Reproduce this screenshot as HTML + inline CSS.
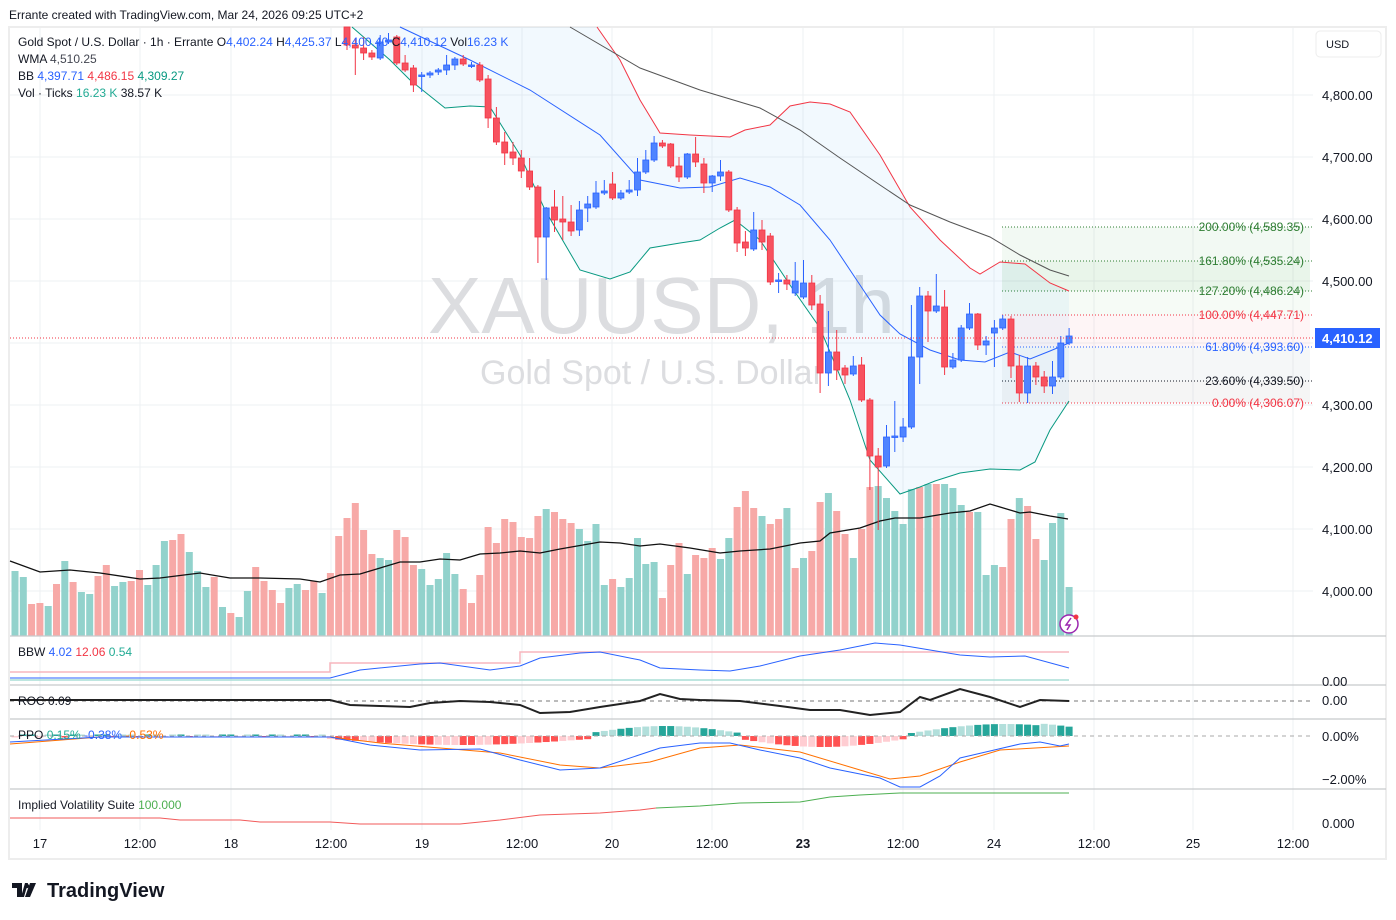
<!DOCTYPE html>
<html><head><meta charset="utf-8">
<style>
html,body{margin:0;padding:0;background:#fff;width:1396px;height:920px;overflow:hidden;font-family:"Liberation Sans",sans-serif;}
svg{position:absolute;left:0;top:0}
</style></head><body>
<svg id="s" width="1396" height="920" xmlns="http://www.w3.org/2000/svg" font-family="Liberation Sans, sans-serif">
<rect x="0" y="0" width="1396" height="920" fill="#fff"/>
<text x="9" y="19" font-size="12" fill="#131722">Errante created with TradingView.com, Mar 24, 2026 09:25 UTC+2</text>
<rect x="9" y="27" width="1377" height="832" fill="none" stroke="#ededed" stroke-width="2"/>
<g id="grid" stroke="#eef0f3" stroke-width="1"></g>
<g id="wm">
<text x="428" y="333" font-size="80" fill="#dcdde0">XAUUSD, 1h</text>
<text x="480" y="384" font-size="34" fill="#dcdde0">Gold Spot / U.S. Dollar</text>
</g>
<g id="fib"></g>
<path id="bbfill" fill="#2196f3" fill-opacity="0.06"/>
<g id="vol"></g>
<polyline id="volma" fill="none" stroke="#111" stroke-width="1.3"/>
<polyline id="bbup" fill="none" stroke="#f23645" stroke-width="1"/>
<polyline id="bbmid" fill="none" stroke="#2962ff" stroke-width="1"/>
<polyline id="bblo" fill="none" stroke="#089981" stroke-width="1"/>
<polyline id="wma" fill="none" stroke="#555" stroke-width="1"/>
<g id="cndl"></g>
<line x1="10" y1="338" x2="1313" y2="338" stroke="#f23645" stroke-dasharray="1,2"/>
<!-- pane separators -->
<g stroke="#c8c9cc" stroke-width="1.3">
<line x1="10" y1="636" x2="1386" y2="636"/>
<line x1="10" y1="685" x2="1386" y2="685"/>
<line x1="10" y1="719" x2="1386" y2="719"/>
<line x1="10" y1="789" x2="1386" y2="789"/>
</g>
<!-- BBW -->
<polyline points="10,672 330,672 330,663 520,663 520,652 1069,652" fill="none" stroke="#f7b5bd" stroke-width="1.5"/>
<line x1="10" y1="680" x2="1069" y2="680" stroke="#a8ddd6" stroke-width="1.5"/>
<polyline id="bbw" fill="none" stroke="#2962ff" stroke-width="1"/>
<!-- ROC -->
<line x1="10" y1="701" x2="1313" y2="701" stroke="#777" stroke-dasharray="4,4"/>
<polyline id="roc" fill="none" stroke="#222" stroke-width="2"/>
<!-- PPO -->
<g id="hist"></g>
<line x1="10" y1="736" x2="1313" y2="736" stroke="#aaa" stroke-dasharray="4,4"/>
<polyline id="ppo1" fill="none" stroke="#ff7000" stroke-width="1"/>
<polyline id="ppo2" fill="none" stroke="#2962ff" stroke-width="1"/>
<!-- IV -->
<polyline points="10,818 160,818 180,820 240,820 260,822 330,822 360,824 460,824 500,820 540,815 600,813 640,810 656,808" fill="none" stroke="#f25a5a" stroke-width="1"/>
<polyline points="656,808 700,806 740,803 800,802 830,797 860,795 900,793 1069,793" fill="none" stroke="#4caf50" stroke-width="1"/>
<!-- legends -->
<g font-size="12" fill="#131722">
<text x="18" y="46">Gold Spot / U.S. Dollar · 1h · Errante  O<tspan fill="#2962ff">4,402.24</tspan>  H<tspan fill="#2962ff">4,425.37</tspan>  L<tspan fill="#2962ff">4,400.40</tspan>  C<tspan fill="#2962ff">4,410.12</tspan>  Vol<tspan fill="#2962ff">16.23 K</tspan></text>
<text x="18" y="63">WMA  <tspan fill="#434651">4,510.25</tspan></text>
<text x="18" y="80">BB  <tspan fill="#2962ff">4,397.71</tspan>  <tspan fill="#f23645">4,486.15</tspan>  <tspan fill="#089981">4,309.27</tspan></text>
<text x="18" y="97">Vol · Ticks  <tspan fill="#22ab94">16.23 K</tspan>  38.57 K</text>
<text x="18" y="656">BBW  <tspan fill="#2962ff">4.02</tspan>  <tspan fill="#f23645">12.06</tspan>  <tspan fill="#22ab94">0.54</tspan></text>
<text x="18" y="705">ROC  0.09</text>
<text x="18" y="739">PPO  <tspan fill="#22ab94">0.15%</tspan>  <tspan fill="#2962ff">-0.38%</tspan>  <tspan fill="#ff7000">-0.53%</tspan></text>
<text x="18" y="809">Implied Volatility Suite  <tspan fill="#4caf50">100.000</tspan></text>
</g>
<!-- price axis -->
<rect x="1316" y="31" width="65" height="26" rx="4" fill="#fff" stroke="#ececec"/>
<text x="1326" y="48" font-size="11" fill="#131722">USD</text>
<g font-size="13" fill="#131722" text-anchor="start">
<text x="1322" y="100">4,800.00</text>
<text x="1322" y="162">4,700.00</text>
<text x="1322" y="224">4,600.00</text>
<text x="1322" y="286">4,500.00</text>
<text x="1322" y="410">4,300.00</text>
<text x="1322" y="472">4,200.00</text>
<text x="1322" y="534">4,100.00</text>
<text x="1322" y="596">4,000.00</text>
<text x="1322" y="686">0.00</text>
<text x="1322" y="705">0.00</text>
<text x="1322" y="741">0.00%</text>
<text x="1322" y="784">−2.00%</text>
<text x="1322" y="828">0.000</text>
</g>
<rect x="1315" y="328" width="65" height="20" fill="#2962ff"/>
<text x="1322" y="343" font-size="13" font-weight="bold" fill="#fff">4,410.12</text>
<!-- time axis -->
<g font-size="13" fill="#131722" text-anchor="middle">
<text x="40" y="848">17</text><text x="140" y="848">12:00</text><text x="231" y="848">18</text><text x="331" y="848">12:00</text>
<text x="422" y="848">19</text><text x="522" y="848">12:00</text><text x="612" y="848">20</text><text x="712" y="848">12:00</text>
<text x="803" y="848" font-weight="bold">23</text><text x="903" y="848">12:00</text><text x="994" y="848">24</text><text x="1094" y="848">12:00</text>
<text x="1193" y="848">25</text><text x="1293" y="848">12:00</text>
</g>
<!-- lightning icon -->
<circle cx="1069" cy="624" r="9" fill="#fff" stroke="#9c27b0" stroke-width="1.5"/>
<path d="M1071,618 L1066,625 L1070,625 L1067,630" fill="none" stroke="#9c27b0" stroke-width="1.5"/>
<circle cx="1076" cy="617" r="2.5" fill="#f23645"/>
<!-- logo -->
<path d="M12,883 h10 v14 h-5 v-9 h-5 z M25,883 h3 l-4,14 h-3 z" fill="#131722"/>
<circle cx="27" cy="886" r="2.2" fill="#131722"/>
<path d="M30,883 h6 l-6,14 h-5 z" fill="#131722"/>
<text x="47" y="897" font-size="20" font-weight="bold" fill="#131722">TradingView</text>
</svg>
<script>
var NS="http://www.w3.org/2000/svg";
function el(p,t,a){var e=document.createElementNS(NS,t);for(var k in a)e.setAttribute(k,a[k]);document.getElementById(p).appendChild(e);return e;}
function X(i){return 15+8.3*i;}
// grid
[40,140,231,331,422,522,612,712,803,903,994,1094,1193,1293].forEach(function(x){el("grid","line",{x1:x,y1:28,x2:x,y2:830});});
[95,157,219,281,343,405,467,529,591].forEach(function(y){el("grid","line",{x1:10,y1:y,x2:1313,y2:y});});
// fib
var fx1=1002,fx2=1310;
var fills=[[227,261,"#4caf50",0.07],[261,291,"#4caf50",0.12],[291,315,"#4caf50",0.05],[315,347,"#f23645",0.05],[347,381,"#b0bec5",0.12],[381,403,"#9e9e9e",0.1]];
fills.forEach(function(f){el("fib","rect",{x:fx1,y:f[0],width:fx2-fx1,height:f[1]-f[0],fill:f[2],"fill-opacity":f[3]});});
var lv=[[227,"#2e7d32","200.00% (4,589.35)"],[261,"#2e7d32","161.80% (4,535.24)"],[291,"#2e7d32","127.20% (4,486.24)"],[315,"#f23645","100.00% (4,447.71)"],[347,"#2962ff","61.80% (4,393.60)"],[381,"#131722","23.60% (4,339.50)"],[403,"#f23645","0.00% (4,306.07)"]];
lv.forEach(function(l){el("fib","line",{x1:fx1,y1:l[0],x2:1313,y2:l[0],stroke:l[1],"stroke-dasharray":"1,2"});
var t=el("fib","text",{x:1304,y:l[0]+4,"font-size":12,fill:l[1],"text-anchor":"end"});t.textContent=l[2];
var bb=t; });
// white bg behind labels
// volumes
var v5=[243,261,342,339,348,282,213,276,306,312,258,225,288,276,273,240,285,225,153,150,132,186,243,291,261,351,369,381,303,231,273,300,339,294,282,300,273,309,249,138,84,39,120,192,204,210,120,141,225,237,285,267,189,252,297,339,255,111,159,87,96,141,144];
var c5="ggrrgrgrggrrggrrgggrrgggrgrggrrrrggrrgrrrrrrggrrrgggggrrrrrrrrr";
var v6=[108,87,96,117,129,147,183,132,315,297,321,294,174,252,246,354,255,189,282,225,234,204,237,174,81,33,84,108,132,117,84,264,234,213,66,39,93,162,234,147,21,18,54,93,132,27,21,12,12,12,24,75,96,96,285,255,261,117,54,78,177,240,129,99,321];
var c6="rgrrrggggrgggggrrrgrrrggrrrgrrgrgrrgrrgrrggggg rgrgggrgggrrgrrggg".replace(/ /g,"");
var vols=[];
for(var i=0;i<63;i++)vols.push([490+v5[i]/3,c5[i]]);
for(var i=0;i<65;i++)vols.push([480+v6[i]/3,c6[i]||"g"]);
vols.forEach(function(v,i){el("vol","rect",{x:X(i)-3.5,y:v[0],width:7,height:636-v[0],fill:v[1]=="r"?"#f7a9a7":"#92d2cc"});});
function pts(id,a){var s="";for(var i=0;i<a.length;i+=2)s+=a[i]+","+a[i+1]+" ";document.getElementById(id).setAttribute("points",s);}
pts("volma",[10,561,40,572,70,570,100,573,140,579,160,578,200,573,230,578,260,578,300,579,320,582,340,575,360,574,400,562,420,562,440,559,460,560,480,554,500,553,520,551,540,553,560,549,600,542,620,543,640,546,660,544,690,548,720,553,740,551,770,549,800,543,820,541,830,533,860,528,880,521,895,518,920,518,950,513,970,511,990,504,1000,507,1020,513,1030,512,1050,516,1068,519]);
var up=[580,27,597,27,620,60,640,100,660,133,690,135,730,137,745,130,770,125,790,106,810,102,830,104,850,112,880,155,910,207,940,240,970,268,980,274,1000,262,1025,264,1050,283,1069,291];
var lo=[352,27,390,60,410,80,445,108,470,106,490,107,520,155,545,210,580,270,610,279,630,272,650,248,680,243,700,240,720,228,735,220,760,240,790,285,820,328,850,400,870,460,900,494,920,487,935,481,960,473,990,469,1020,470,1035,462,1050,430,1069,401];
pts("bbup",up.slice(2));pts("bblo",lo);
var d="M"+lo[0]+","+lo[1];for(var i=2;i<lo.length;i+=2)d+=" L"+lo[i]+","+lo[i+1];
for(var i=up.length-2;i>=0;i-=2)d+=" L"+up[i]+","+up[i+1];d+=" Z";
document.getElementById("bbfill").setAttribute("d",d);
pts("bbmid",[400,27,470,60,530,90,600,135,640,180,680,188,710,187,740,178,770,187,800,205,830,240,860,285,880,315,900,334,930,350,960,360,985,362,1010,352,1030,359,1050,351,1069,343]);
pts("wma",[570,27,640,68,700,90,760,108,800,130,840,158,880,185,910,205,950,222,990,237,1020,255,1050,270,1069,276]);
var C=[[25,45,22,50],[45,48,38,75],[48,53,37,60],[53,57,50,60],[58,42,35,60],[42,40,33,44],[37,63,35,65],[63,70,55,72],[68,85,65,92],[75,75,72,92],[75,73,71,78],[72,70,68,75],[70,65,55,75],[65,59,57,70],[59,64,55,66],[65,65,62,68],[65,80,62,82],[79,118,75,128],[118,142,107,145],[142,153,132,165],[152,158,142,165],[158,171,150,178],[171,187,158,190],[187,237,185,263],[237,208,207,280],[207,220,190,232],[219,222,196,240],[222,231,205,236],[230,210,201,236],[208,204,196,222],[207,193,181,209],[193,191,180,195],[184,198,172,200],[198,193,190,200],[192,190,180,194],[190,172,158,196],[172,160,150,174],[160,143,136,162],[143,146,140,148],[144,166,143,168],[166,177,157,182],[177,154,153,179],[154,162,137,167],[164,183,158,193],[183,176,175,192],[176,172,160,181],[172,210,170,212],[210,243,207,252],[242,248,231,256],[249,230,212,251],[230,242,220,250],[236,282,233,285],[280,280,273,293],[280,284,275,290],[293,283,265,296],
[297,283,260,299],[283,305,275,310],[304,373,295,393],[373,352,311,386],[352,370,330,380],[368,375,365,384],[374,366,356,376],[365,400,357,402],[400,456,398,490],[456,467,448,530],[466,437,425,468],[437,436,401,452],[437,427,418,442],[427,357,305,429],[357,296,287,384],[296,311,291,342],[311,306,274,313],[307,367,290,375],[367,360,353,369],[360,328,325,362],[328,314,303,330],[314,345,313,350],[345,341,336,355],[333,328,320,367],[328,319,315,330],[319,366,316,378],[366,393,355,402],[393,366,357,403],[366,377,362,385],[377,386,371,393],[386,377,361,394],[377,343,336,379],[343,336,328,345]];
C.splice(54,1);
C.forEach(function(c,k){var i=40+k+(k>=54?1:0);if(k==53){}
var x=X(i),o=c[0],cl=c[1],up=cl<=o,col=up?"#2962ff":"#f23645";
var h=Math.max(27,c[2]),l=c[3];if(l<28)return;
el("cndl","line",{x1:x,y1:h,x2:x,y2:l,stroke:col,"stroke-width":1});
var t=Math.max(27,Math.min(o,cl)),b=Math.max(o,cl);if(b-t<1.5)b=t+1.5;
el("cndl","rect",{x:x-3,y:t,width:6,height:b-t,fill:up?"#4f84ff":"#f7525f",stroke:col,"stroke-width":0.8});});
// fix gap at 94: add candle
(function(){var x=X(94);el("cndl","line",{x1:x,y1:262,x2:x,y2:296,stroke:"#2962ff"});el("cndl","rect",{x:x-3,y:281,width:6,height:12,fill:"#4f84ff",stroke:"#2962ff","stroke-width":0.8});})();
pts("bbw",[10,678,330,678,360,670,420,664,440,663,490,670,520,666,540,658,580,653,600,652,640,660,660,668,700,670,730,671,760,666,800,656,840,650,875,643,900,645,930,650,960,655,990,657,1025,656,1069,668]);
pts("roc",[10,700,330,700,350,705,380,706,410,707,430,703,460,701,490,702,520,705,540,713,570,712,600,707,640,701,660,694,680,699,700,700,740,701,780,706,810,710,840,710,870,715,900,712,920,697,930,700,960,689,990,697,1020,707,1040,700,1069,701]);
pts("ppo2",[10,742,100,737,330,737,370,745,420,750,480,749,520,760,560,770,600,768,660,748,700,743,730,743,760,750,800,758,830,768,880,778,900,787,920,787,940,776,960,758,990,751,1020,744,1040,742,1060,746,1069,744]);
pts("ppo1",[10,744,100,737,330,737,380,743,440,748,500,753,560,765,600,768,650,762,700,748,740,745,800,752,860,770,890,779,920,776,960,762,1000,750,1069,746]);
// histogram
for(var i=0;i<128;i++){var x=X(i),v;
if(x<330)v=(i%3==0?-1:1)*1.5;
else if(x<590)v=-3-6*Math.sin((x-330)/260*Math.PI);
else if(x<740)v=3+7*Math.sin((x-590)/150*Math.PI);
else if(x<905)v=-3-8*Math.sin((x-740)/165*Math.PI);
else v=2+10*Math.sin((x-905)/200*Math.PI)+ (x>1040?2:0);
var pos=v>0,grow=Math.sin(i*1.3)>0;
var col=pos?(grow?"#26a69a":"#b2dfdb"):(grow?"#ff5252":"#ffcdd2");
el("hist","rect",{x:x-3.5,y:pos?736-v:736,width:7,height:Math.abs(v),fill:col});}
</script>
</body></html>
